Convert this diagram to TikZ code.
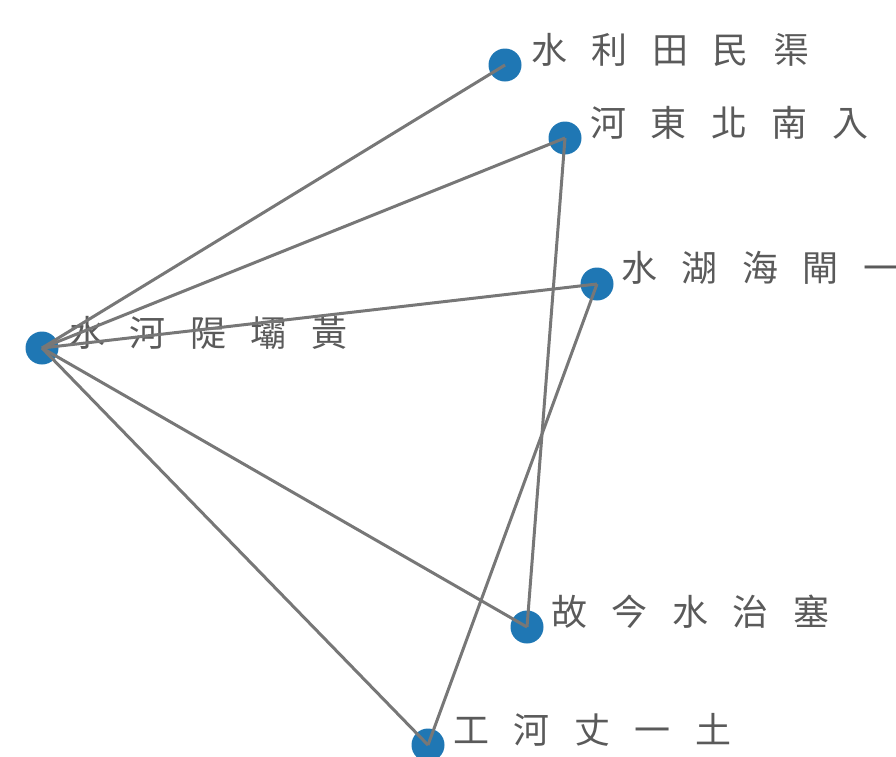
\documentclass[tikz,border=0pt]{standalone}
\usepackage{fontspec}
\newfontfamily\cjk[WordSpace=3.05]{Noto Sans CJK TC}
\definecolor{dotblue}{HTML}{1F77B4}
\definecolor{linkgray}{HTML}{777777}
\definecolor{labelgray}{HTML}{5A5A5A}
\tikzset{
  dot/.style={circle, fill=dotblue, draw=none, minimum size=33pt, inner sep=0pt},
  lab/.style={anchor=west, inner sep=0pt, text=labelgray, font=\cjk\fontsize{36pt}{40pt}\selectfont},
  link/.style={draw=linkgray, line width=3pt}
}
\begin{document}
\begin{tikzpicture}[x=1pt,y=-1pt]
\useasboundingbox (0,0) rectangle (896,756);
\clip (0,0) rectangle (896,756);
\node[dot] (a) at (42,348) {};
\node[dot] (b) at (505,65) {};
\node[dot] (c) at (565,138) {};
\node[dot] (d) at (597,284) {};
\node[dot] (e) at (527,627) {};
\node[dot] (f) at (428,745) {};
\node[lab] (la) at (69,333) {水 河 隄 壩 黃};
\node[lab] (lb) at (531,50) {水 利 田 民 渠};
\node[lab] (lc) at (590,123) {河 東 北 南 入};
\node[lab] (ld) at (621,268) {水 湖 海 閘 一};
\node[lab] (le) at (551,612) {故 今 水 治 塞};
\node[lab] (lf) at (453,730) {工 河 丈 一 土};
\draw[link] (a.center) -- (b.center);
\draw[link] (a.center) -- (c.center);
\draw[link] (a.center) -- (d.center);
\draw[link] (a.center) -- (e.center);
\draw[link] (a.center) -- (f.center);
\draw[link] (c.center) -- (e.center);
\draw[link] (d.center) -- (f.center);
\end{tikzpicture}
\end{document}
